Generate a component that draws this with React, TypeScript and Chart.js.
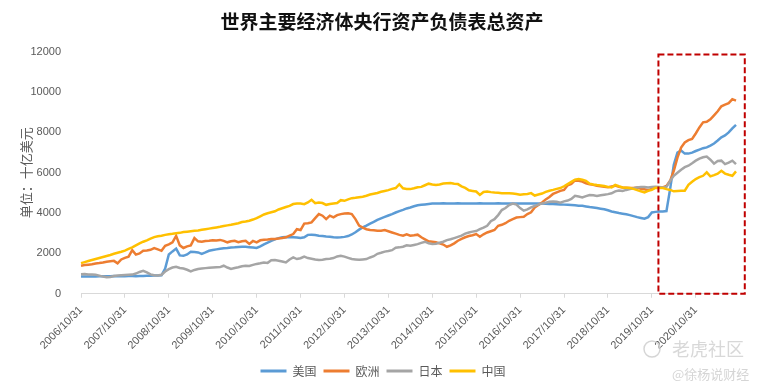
import { useEffect, useRef } from "react";
import { Chart, registerables } from "chart.js";

Chart.register(...registerables);

const TITLE = "世界主要经济体央行资产负债表总资产";
const Y_TITLE = "单位：十亿美元";
const START_YEAR = 2006;
const START_MONTH = 10;
const MONTH_COUNT = 180;
const TICK_LABELS = [
  "2006/10/31", "2007/10/31", "2008/10/31", "2009/10/31", "2010/10/31",
  "2011/10/31", "2012/10/31", "2013/10/31", "2014/10/31", "2015/10/31",
  "2016/10/31", "2017/10/31", "2018/10/31", "2019/10/31", "2020/10/31",
];
const Y_MIN = 0;
const Y_MAX = 12000;
const Y_STEP = 2000;
const SERIES_NAMES = ["美国", "欧洲", "日本", "中国"];
const SERIES_COLORS = ["#5B9BD5", "#ED7D31", "#A5A5A5", "#FFC000"];

// 十亿美元, monthly from 2006/10 to 2021/09
const US = [
  850, 855, 860, 858, 860, 865, 862, 868, 870, 875, 872, 880,
  870, 880, 875, 870, 880, 885, 890, 895, 900, 905, 910, 1250,
  1950, 2100, 2240, 1900, 1880, 1950, 2080, 2070, 2050, 1980, 2050, 2130,
  2170, 2200, 2230, 2260, 2270, 2290, 2300, 2320, 2330, 2330, 2310, 2290,
  2270, 2350, 2450, 2530, 2620, 2700, 2760, 2800, 2810, 2800, 2800, 2790,
  2760, 2800, 2920, 2930, 2910, 2880, 2860, 2840, 2830, 2800, 2790, 2800,
  2820, 2860, 2940, 3050, 3180, 3290, 3380, 3480, 3560, 3660, 3740, 3810,
  3880, 3950, 4030, 4100, 4160, 4230, 4280, 4340, 4390, 4410, 4430, 4450,
  4470, 4480, 4480, 4485, 4480, 4475, 4480, 4485, 4480, 4480, 4475, 4480,
  4480, 4485, 4480, 4475, 4480, 4480, 4485, 4480, 4475, 4480, 4480, 4480,
  4480, 4475, 4480, 4480, 4475, 4470, 4470, 4460, 4455, 4450, 4440, 4430,
  4420, 4410, 4400, 4390, 4370, 4360, 4330, 4300, 4280, 4250, 4220, 4190,
  4140, 4080, 4040, 4000, 3970, 3940, 3900, 3850, 3800, 3760, 3720, 3800,
  4030, 4060, 4080, 4080, 4100, 5200, 6400, 7000, 7100, 6950, 6950, 7000,
  7080, 7150, 7220, 7260, 7350, 7450, 7600, 7760, 7850, 8000, 8200, 8380,
];
const EUROPE = [
  1390, 1420, 1440, 1460, 1500, 1520, 1550, 1590, 1610, 1630, 1510, 1700,
  1780, 1840, 2160, 1940, 2000, 2130, 2150, 2180, 2260, 2200, 2130, 2380,
  2450, 2550, 2870, 2400, 2270, 2350, 2400, 2760, 2600, 2580, 2620, 2630,
  2650, 2640, 2670, 2620, 2550, 2600, 2630, 2560, 2600, 2630, 2470, 2620,
  2550, 2650, 2680, 2690, 2710, 2720, 2740, 2760, 2800, 2880, 2960, 3200,
  3160, 3480, 3500, 3540, 3750, 3950, 3870, 3700, 3870, 3790, 3900, 3950,
  3980, 3990, 3950, 3700, 3380, 3280, 3200, 3160, 3150, 3120, 3130, 3160,
  3100, 3040, 2980, 2920, 2880, 2950, 2880, 2900, 2930, 2800, 2700, 2600,
  2580, 2550, 2500, 2440, 2330, 2400, 2500, 2630, 2720, 2800, 2860, 2900,
  2960, 2830, 2950, 3040, 3100, 3160, 3370, 3420, 3500, 3620, 3700, 3780,
  3800, 3820, 3950, 4040, 4280, 4400, 4530, 4680, 4800, 4950, 5030, 5100,
  5150, 5380, 5450, 5620, 5600, 5560, 5480, 5430, 5400, 5350, 5330, 5300,
  5280, 5320, 5360, 5300, 5270, 5260, 5240, 5250, 5270, 5200, 5180, 5140,
  5200, 5270, 5280, 5270, 5350, 5600, 6100, 6750, 7250, 7500, 7620, 7680,
  7950, 8250, 8500, 8530, 8650, 8850, 9050, 9300, 9380, 9450, 9650, 9580,
];
const JAPAN = [
  970, 980, 960, 950, 940, 900, 850, 820, 830, 880, 900, 920,
  930, 940, 950, 1000, 1080, 1140, 1060, 960, 920, 900, 940, 1100,
  1220, 1300, 1340, 1280, 1250, 1190, 1110, 1180, 1230, 1250, 1270, 1290,
  1300, 1310, 1320, 1390, 1300, 1230, 1280, 1310, 1360, 1390, 1380, 1430,
  1480, 1510, 1550, 1530, 1660, 1670, 1640, 1600, 1550, 1700, 1800, 1720,
  1760, 1840, 1770, 1740, 1700, 1670, 1690, 1720, 1740, 1770, 1850, 1880,
  1840, 1780, 1720, 1700, 1680, 1700, 1720, 1800, 1860, 1980, 2030, 2090,
  2120, 2160, 2280, 2300, 2330, 2400, 2380, 2420, 2460, 2520, 2580, 2500,
  2470, 2480, 2530, 2580, 2660, 2700, 2760, 2820, 2880, 2980, 3040, 3080,
  3110, 3200, 3280, 3370, 3600, 3700, 3900, 4150, 4250, 4400, 4470, 4420,
  4250, 4120, 4180, 4280, 4360, 4420, 4480, 4520, 4560, 4580, 4560, 4520,
  4580, 4620, 4700, 4860, 4820, 4780, 4840, 4900, 4880, 4850, 4880, 4910,
  4940, 4980, 5080, 5120, 5100, 5150, 5190, 5230, 5270, 5300, 5290, 5270,
  5300, 5310, 5290, 5270, 5300, 5600, 5850, 6000, 6150, 6280, 6350, 6470,
  6600, 6700, 6770, 6800, 6650, 6450, 6580, 6600, 6430, 6500, 6600, 6430,
];
const CHINA = [
  1520, 1570, 1620, 1670, 1720, 1770, 1820, 1870, 1920, 1980, 2030, 2080,
  2140, 2220, 2300, 2400, 2500, 2580, 2650, 2730, 2810, 2850, 2880, 2920,
  2950, 2970, 3000, 3020, 3060, 3080, 3100, 3120, 3140, 3170, 3200, 3230,
  3260, 3290, 3320, 3360, 3390, 3420, 3460, 3500, 3560, 3580, 3620, 3680,
  3750, 3840, 3930, 3990, 4040, 4090, 4180, 4240, 4300, 4360, 4450, 4480,
  4470, 4440, 4530, 4660, 4490, 4530, 4500, 4410, 4450, 4480, 4500, 4640,
  4610, 4680, 4740, 4760, 4790, 4810, 4860, 4920, 4960, 5000, 5060, 5100,
  5140, 5200, 5240, 5430, 5230, 5200, 5190, 5230, 5280, 5300, 5380, 5460,
  5420, 5390, 5420, 5470, 5480, 5490, 5460, 5440, 5330, 5250, 5130, 5100,
  5070, 4900, 5050, 5070, 5040, 5020, 5010, 4990, 4990, 4980, 4970, 4950,
  4910, 4930, 4950, 4990, 4870, 4920, 4970, 5050, 5110, 5150, 5200, 5240,
  5330, 5440, 5550, 5660, 5690, 5650, 5600, 5460, 5420, 5390, 5370, 5340,
  5300, 5270, 5400, 5330, 5270, 5260, 5240, 5200, 5140, 5080, 5030, 5100,
  5150, 5260, 5250, 5240, 5190, 5150, 5080, 5100, 5110, 5110, 5400, 5550,
  5690, 5780, 5850, 6020, 5820, 5880, 5950, 6100, 5960, 5900, 5850, 6070,
];
const SERIES = [US, EUROPE, JAPAN, CHINA];

// highlighted period (dashed box), in month-index and value units
const HIGHLIGHT_X = [157.8, 181.4];
const HIGHLIGHT_Y = [0, 11860];

const WATERMARK_1 = "老虎社区";
const WATERMARK_2 = "@徐杨说财经";

const FONT = "'Liberation Sans', 'Noto Sans CJK SC', sans-serif";
const CJK = "'Noto Sans CJK SC', 'Liberation Sans', sans-serif";
const TEXT = "#595959";

function buildLabels(): string[] {
  const out: string[] = [];
  for (let k = 0; k < MONTH_COUNT; k++) {
    const m0 = START_MONTH - 1 + k;
    const y = START_YEAR + Math.floor(m0 / 12);
    const m = (m0 % 12) + 1;
    const d = new Date(y, m, 0).getDate();
    out.push(`${y}/${m}/${d}`);
  }
  return out;
}

const highlightPlugin = {
  id: "highlightBox",
  afterDatasetsDraw(chart: any) {
    const xs = chart.scales.x;
    const ys = chart.scales.y;
    const l = xs.getPixelForValue(HIGHLIGHT_X[0]);
    const r = xs.getPixelForValue(HIGHLIGHT_X[1]);
    const t = ys.getPixelForValue(HIGHLIGHT_Y[1]);
    const b = ys.getPixelForValue(HIGHLIGHT_Y[0]);
    const ctx = chart.ctx;
    ctx.save();
    ctx.strokeStyle = "#C00000";
    ctx.lineWidth = 2;
    ctx.setLineDash([6, 3]);
    ctx.strokeRect(l, t, r - l, b - t);
    ctx.restore();
  },
};

// centre the legend and title on the full canvas width rather than the padded box
const centerShiftPlugin = {
  id: "centerShift",
  afterLayout(chart: any) {
    const lg = chart.legend;
    if (lg) {
      lg.left += 11;
      lg.right += 11;
    }
    const tb = chart.titleBlock;
    if (tb) {
      tb.left += 10;
      tb.right += 10;
    }
  },
};

const watermarkPlugin = {
  id: "watermark",
  afterDraw(chart: any) {
    const ctx = chart.ctx;
    const w = chart.width;
    const h = chart.height;
    ctx.save();
    ctx.globalAlpha = 0.9;
    ctx.strokeStyle = "#d0d0d0";
    ctx.lineWidth = 1.5;
    ctx.beginPath();
    ctx.arc(w - 109, h - 43, 8, 0, Math.PI * 2);
    ctx.stroke();
    ctx.fillStyle = "#d4d4d4";
    ctx.textBaseline = "middle";
    ctx.textAlign = "left";
    ctx.font = `18px ${CJK}`;
    ctx.fillText(WATERMARK_1, w - 89, h - 43);
    ctx.font = `13px ${CJK}`;
    ctx.fillStyle = "#d0d0d0";
    ctx.fillText(WATERMARK_2, w - 89, h - 18);
    ctx.restore();
  },
};

function ChartView() {
  const ref = useRef<HTMLCanvasElement | null>(null);
  useEffect(() => {
    if (!ref.current) return;
    const labels = buildLabels();
    const chart = new Chart(ref.current, {
      type: "line",
      data: {
        labels,
        datasets: SERIES.map((data, i) => ({
          label: SERIES_NAMES[i],
          data,
          borderColor: SERIES_COLORS[i],
          backgroundColor: SERIES_COLORS[i],
          borderWidth: 2.5,
          pointRadius: 0,
          tension: 0,
          order: SERIES.length - i,
        })),
      },
      options: {
        animation: false,
        responsive: true,
        maintainAspectRatio: false,
        layout: { padding: { left: 8, right: 25, top: 0, bottom: 5 } },
        plugins: {
          title: {
            display: true,
            text: TITLE,
            color: "#111",
            font: { family: CJK, size: 19, weight: "bold" },
            padding: { top: 10, bottom: 19 },
          },
          legend: {
            position: "bottom",
            labels: {
              color: TEXT,
              font: { family: CJK, size: 12 },
              boxWidth: 26,
              boxHeight: 3,
              padding: 7,
              sort: (a: any, b: any) => a.datasetIndex - b.datasetIndex,
              generateLabels: (c: any) =>
                Chart.defaults.plugins.legend.labels
                  .generateLabels(c)
                  .map((l: any) => ({ ...l, lineWidth: 0, fillStyle: l.strokeStyle })),
            },
          },
          tooltip: { enabled: false },
        },
        scales: {
          x: {
            type: "category",
            offset: false,
            grid: {
              display: true,
              drawOnChartArea: false,
              drawTicks: true,
              tickLength: 4,
              color: "#d9d9d9",
            },
            border: { display: true, color: "#d9d9d9" },
            ticks: {
              autoSkip: false,
              maxRotation: 45,
              minRotation: 45,
              color: TEXT,
              padding: 6,
              font: { family: FONT, size: 11 },
            },
            afterBuildTicks: (scale: any) => {
              scale.ticks = scale.ticks.filter((t: any) =>
                TICK_LABELS.includes(labels[t.value])
              );
            },
          },
          y: {
            min: Y_MIN,
            max: Y_MAX,
            grid: { display: false },
            border: { display: false },
            ticks: {
              stepSize: Y_STEP,
              color: TEXT,
              padding: 12,
              font: { family: FONT, size: 11 },
              callback: (v: any) => String(v),
            },
            title: {
              display: true,
              text: Y_TITLE,
              color: TEXT,
              font: { family: CJK, size: 13 },
              padding: { top: 10, bottom: 0 },
            },
            afterFit: (scale: any) => {
              scale.width = 73;
            },
          },
        },
      },
      plugins: [highlightPlugin, centerShiftPlugin, watermarkPlugin],
    });
    return () => chart.destroy();
  }, []);
  return (
    <div style={{ position: "absolute", left: 0, top: 0, width: 761, height: 392, background: "#fff" }}>
      <canvas ref={ref} />
    </div>
  );
}

export default function App() {
  return <ChartView />;
}
